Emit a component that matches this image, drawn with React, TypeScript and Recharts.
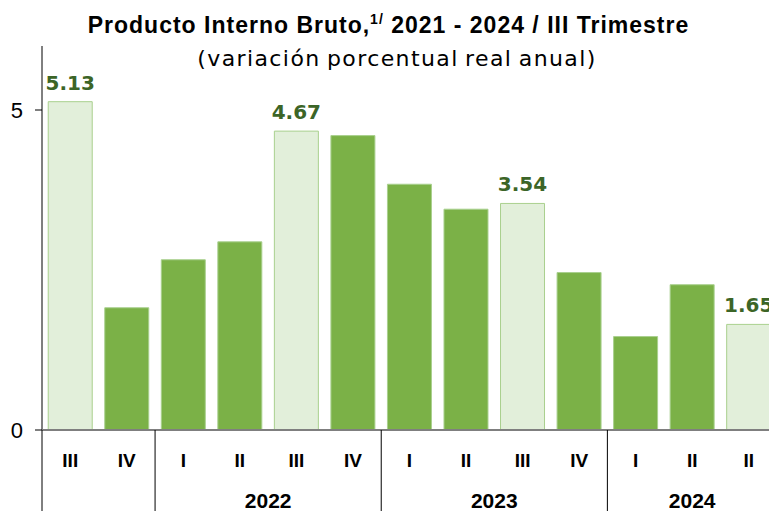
import React from 'react'
import { BarChart, Bar, XAxis, YAxis, Cell, LabelList } from 'recharts'

// quarterly real annual GDP growth, 2021 Q3 - 2024 Q3
const quarters = ['III', 'IV', 'I', 'II', 'III', 'IV', 'I', 'II', 'III', 'IV', 'I', 'II', 'II']
const years = ['', '', '2022', '2022', '2022', '2022', '2023', '2023', '2023', '2023', '2024', '2024', '2024']
const values = [5.13, 1.91, 2.66, 2.94, 4.67, 4.6, 3.84, 3.45, 3.54, 2.46, 1.46, 2.27, 1.65]
const highlight = [true, false, false, false, true, false, false, false, true, false, false, false, true]
const yTicks = [0, 5]

const data = quarters.map((q, i) => ({ q, year: years[i], value: values[i], hl: highlight[i] }))

const W = 777
const H = 511
const YW = 42
const band = (W - YW) / quarters.length

const DARK = '#7bb147'
const LIGHT = '#e2efda'
const EDGE = '#a9d08e'
const LABEL = '#3c6527'

const QuarterTick = (props: any) => {
  const { x, y, payload } = props
  const i = payload.index
  const yr = years[i]
  const isStart = i === 0 || years[i - 1] !== yr
  let start = i
  while (start > 0 && years[start - 1] === yr) start--
  let end = i
  while (end < years.length - 1 && years[end + 1] === yr) end++
  const mid = (start + end) / 2
  const showYear = yr && Math.floor(mid) === i
  const yearX = x + (mid - i) * band
  return (
    <g>
      {isStart && (
        <line x1={x - band / 2} x2={x - band / 2} y1={y} y2={y + 90} stroke="#000" strokeWidth={1} />
      )}
      <text x={x} y={y + 37} textAnchor="middle" fontSize={19} fontWeight="bold" fill="#000"
        fontFamily="'Liberation Sans', Arial, sans-serif">
        {payload.value}
      </text>
      {showYear && (
        <text x={yearX} y={y + 78} textAnchor="middle" fontSize={21} fontWeight="bold" fill="#000"
          fontFamily="'Liberation Sans', Arial, sans-serif">
          {yr}
        </text>
      )}
    </g>
  )
}

export default function App() {
  return (
    <div style={{ position: 'fixed', left: 0, top: 0, width: 769, height: 511, overflow: 'hidden', background: '#fff' }}>
      <div style={{ position: 'absolute', left: 0, top: 25, width: 777, textAlign: 'center',
        fontFamily: "'Liberation Sans', Arial, sans-serif", fontWeight: 'bold', letterSpacing: 1,
        fontSize: 23, lineHeight: 0, color: '#000', whiteSpace: 'nowrap' }}>
        Producto Interno Bruto,<sup style={{ fontSize: 14, verticalAlign: 0, position: 'relative', top: -9 }}>1/</sup> 2021 - 2024 / III Trimestre
      </div>
      <div style={{ position: 'absolute', left: 0, top: 59, width: 794, textAlign: 'center',
        fontFamily: "'DejaVu Sans', sans-serif", fontSize: 22, letterSpacing: 1.4, wordSpacing: -2, lineHeight: 0,
        color: '#000', whiteSpace: 'nowrap' }}>
        (variación porcentual real anual)
      </div>
      <div style={{ position: 'absolute', left: 0, top: 0 }}>
        <BarChart width={W} height={H} data={data} margin={{ top: 46, right: 0, left: 0, bottom: 0 }}
          barCategoryGap="11%">
          <YAxis domain={[0, 6]} ticks={yTicks} width={YW} axisLine={{ stroke: '#000' }}
            tickLine={{ stroke: '#000' }} tickSize={7} tickMargin={12}
            tick={{ fontSize: 22, fill: '#000', fontFamily: "'Liberation Sans', Arial, sans-serif" }} />
          <XAxis dataKey="q" height={H - 430} interval={0} tickSize={0} tickMargin={0} tickLine={false}
            axisLine={{ stroke: '#7f7f7f', strokeWidth: 2 }} tick={<QuarterTick />} />
          <Bar dataKey="value" isAnimationActive={false} stroke={EDGE} strokeWidth={1}>
            {data.map((d, i) => (
              <Cell key={i} fill={d.hl ? LIGHT : DARK} />
            ))}
            <LabelList dataKey="value" position="top"
              content={(p: any) => {
                const i = p.index
                if (!highlight[i]) return null
                return (
                  <text x={p.x + p.width / 2} y={p.y - 12} textAnchor="middle" fontSize={20}
                    fontWeight="bold" fill={LABEL} fontFamily="'DejaVu Sans', sans-serif">
                    {values[i].toFixed(2)}
                  </text>
                )
              }} />
          </Bar>
        </BarChart>
      </div>
    </div>
  )
}
